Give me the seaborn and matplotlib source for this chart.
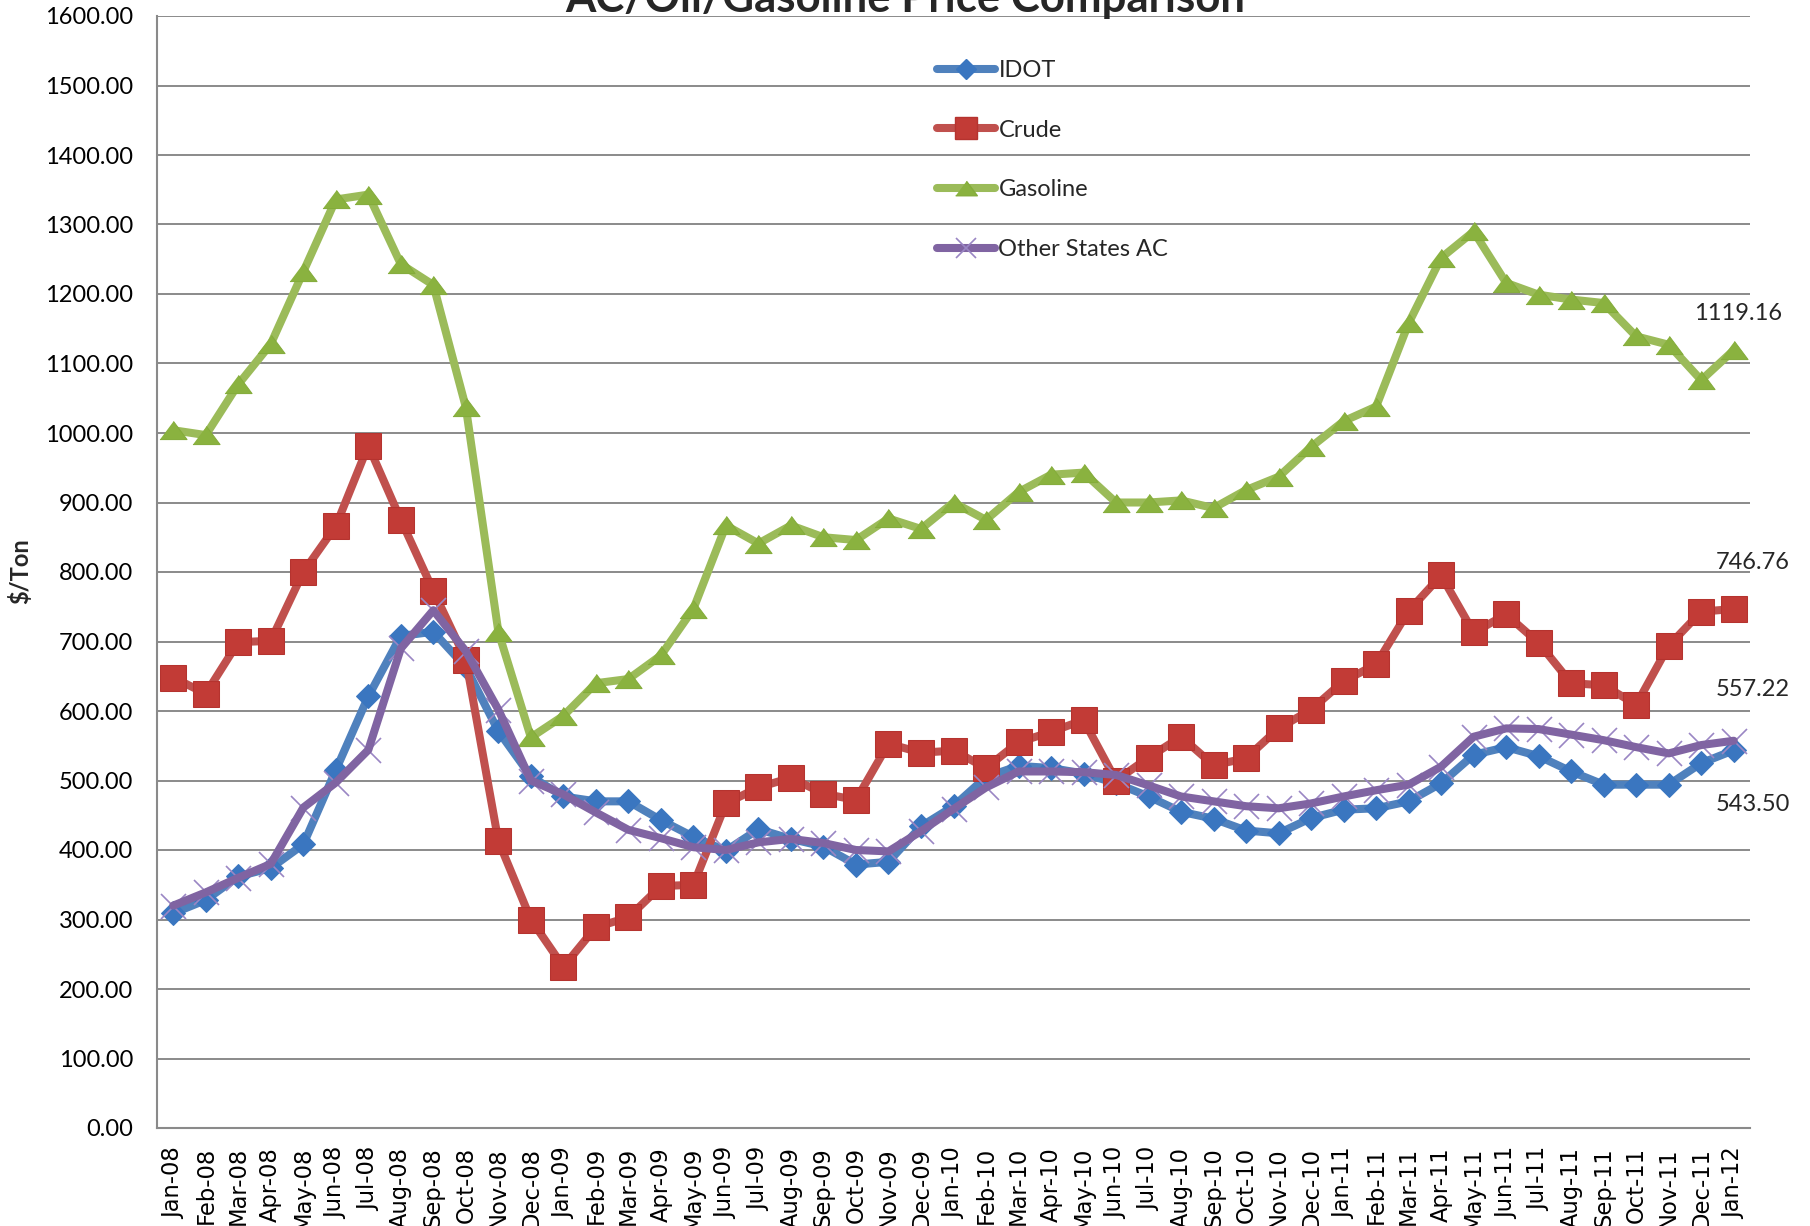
import numpy as np
import pandas as pd
import matplotlib
matplotlib.use("Agg")
import matplotlib.pyplot as plt
from matplotlib.lines import Line2D
from matplotlib.ticker import FuncFormatter
import seaborn as sns

# ---------------- data ----------------
months = [
    "Jan-08", "Feb-08", "Mar-08", "Apr-08", "May-08", "Jun-08", "Jul-08", "Aug-08", "Sep-08", "Oct-08", "Nov-08", "Dec-08",
    "Jan-09", "Feb-09", "Mar-09", "Apr-09", "May-09", "Jun-09", "Jul-09", "Aug-09", "Sep-09", "Oct-09", "Nov-09", "Dec-09",
    "Jan-10", "Feb-10", "Mar-10", "Apr-10", "May-10", "Jun-10", "Jul-10", "Aug-10", "Sep-10", "Oct-10", "Nov-10", "Dec-10",
    "Jan-11", "Feb-11", "Mar-11", "Apr-11", "May-11", "Jun-11", "Jul-11", "Aug-11", "Sep-11", "Oct-11", "Nov-11", "Dec-11",
    "Jan-12",
]

idot = [
    309, 328, 362, 374, 408, 515, 621, 708, 714, 663, 571, 506,
    477, 470, 470, 443, 419, 399, 430, 416, 405, 379, 383, 434,
    463, 505, 521, 518, 510, 496, 477, 455, 445, 428, 424, 446,
    458, 460, 470, 496, 537, 548, 535, 513, 494, 494, 494, 525,
    543.50,
]

crude = [
    648, 625, 699, 701, 800, 866, 982, 875, 773, 674, 413, 300,
    232, 289, 303, 348, 350, 467, 490, 504, 481, 472, 553, 540,
    543, 518, 555, 570, 587, 500, 533, 563, 522, 532, 575, 602,
    643, 667, 744, 795, 713, 739, 698, 640, 637, 609, 694, 743,
    746.76,
]

gasoline = [
    1004, 997, 1070, 1128, 1232, 1336, 1343, 1243, 1213, 1037, 714, 562,
    593, 640, 646, 680, 747, 867, 841, 867, 850, 846, 877, 862,
    900, 875, 915, 940, 943, 900, 900, 903, 892, 918, 937, 980,
    1017, 1038, 1158, 1252, 1290, 1216, 1199, 1192, 1187, 1139, 1127, 1076,
    1119.16,
]

other_states = [
    320, 339, 360, 380, 461, 497, 544, 690, 745, 686, 602, 500,
    480, 454, 429, 417, 404, 400, 411, 416, 410, 400, 398, 427,
    459, 490, 513, 513, 512, 508, 493, 477, 470, 463, 460, 467,
    477, 486, 494, 520, 563, 575, 574, 566, 558, 548, 539, 551,
    557.22,
]

series_names = ["IDOT", "Crude", "Gasoline", "Other States AC"]
title = "AC/Oil/Gasoline Price Comparison"
y_label = r"\$/Ton"

# ---------------- styling ----------------
sns.set_style("white")
plt.rcParams["font.family"] = ["Lato", "DejaVu Sans"]

W, H = 1810, 1226
fig, ax = plt.subplots(figsize=(W / 100, H / 100), dpi=100)
fig.subplots_adjust(left=157 / W, right=1750 / W, top=1 - 16 / H, bottom=1 - 1128 / H)

idx = np.arange(len(months))
df = pd.DataFrame({"idx": idx, "IDOT": idot, "Crude": crude,
                   "Gasoline": gasoline, "Other States AC": other_states})
long = df.melt(id_vars="idx", var_name="series", value_name="value")

grid_c = "#8a8a8a"
line_w = 5.8

tri = [(-1.0, -0.67), (1.0, -0.67), (0.0, 0.67)]

styles = {
    "IDOT": dict(color="#4F81BD", marker="D", markersize=12.5,
                 markerfacecolor="#3A76C0", markeredgecolor="#3A76C0"),
    "Crude": dict(color="#C0504D", marker="s", markersize=19,
                  markerfacecolor="#C23B36", markeredgecolor="#B5332F"),
    "Gasoline": dict(color="#9BBB59", marker=tri, markersize=19.5,
                     markerfacecolor="#8AB23F", markeredgecolor="#84AC3A"),
}
x_style = dict(marker="x", markersize=18, markeredgewidth=1.2,
               markeredgecolor="#9A86C4")

for name in ["IDOT", "Crude", "Gasoline"]:
    sub = long[long["series"] == name]
    sns.lineplot(data=sub, x="idx", y="value", ax=ax, linewidth=line_w,
                 errorbar=None, sort=False, legend=False, **styles[name])

# Other States AC: light X markers beneath a thick purple line
sub = long[long["series"] == "Other States AC"]
sns.lineplot(data=sub, x="idx", y="value", ax=ax, linestyle="", color="#9A86C4",
             errorbar=None, sort=False, legend=False, **x_style)
sns.lineplot(data=sub, x="idx", y="value", ax=ax, linewidth=line_w,
             color="#8064A2", errorbar=None, sort=False, legend=False)

# axes
ax.set_xlim(-0.5, len(months) - 0.5)
ax.set_ylim(0, 1600)
ax.set_yticks(np.arange(0, 1601, 100))
ax.yaxis.set_major_formatter(FuncFormatter(lambda v, p: f"{v:.2f}"))
ax.set_xticks(idx)
ax.set_xticklabels(months, rotation=90, fontfamily="DejaVu Sans", fontsize=16.3)
ax.set_xticks(np.arange(-0.5, len(months), 1), minor=True)
ax.tick_params(axis="x", which="major", length=0, pad=13.7, colors="black")
ax.tick_params(axis="x", which="minor", length=5.5, width=1.3, color=grid_c)
ax.tick_params(axis="y", which="major", length=5, width=1.3, color=grid_c,
               pad=12, labelsize=17, labelcolor="black")
ax.set_xlabel("")
ax.set_ylabel("")
ax.grid(axis="y", color=grid_c, linewidth=1.4)
ax.grid(axis="x", visible=False)
ax.set_axisbelow(True)
for s in ["top", "right"]:
    ax.spines[s].set_visible(False)
for s in ["left", "bottom"]:
    ax.spines[s].set_color(grid_c)
    ax.spines[s].set_linewidth(1.5)

# title and y label (title partially cut at top, as in reference)
fig.text(0.5, 1 - 12 / H, title, ha="center", va="baseline",
         fontsize=31.5, fontweight="bold")
fig.text(20 / W, 1 - 571 / H, y_label, rotation=90, ha="center", va="center",
         fontsize=17, fontweight="bold")

# end-point value labels
ends = [(gasoline[-1], 4, 37), (crude[-1], 19, 47),
        (other_states[-1], 19, 51), (idot[-1], 19, -54)]
for val, dx, dy in ends:
    ax.annotate(f"{val:.2f}", xy=(idx[-1], val), xytext=(dx, dy),
                textcoords="offset pixels", ha="center", va="center",
                fontsize=17, annotation_clip=False)

# legend
handles = [
    Line2D([], [], linewidth=line_w, solid_capstyle="round", **styles["IDOT"]),
    Line2D([], [], linewidth=line_w, solid_capstyle="round", **styles["Crude"]),
    Line2D([], [], linewidth=line_w, solid_capstyle="round", **styles["Gasoline"]),
    Line2D([], [], linewidth=line_w, solid_capstyle="round", color="#8064A2", **x_style),
]
fig.legend(handles, series_names, loc="upper left",
           bbox_to_anchor=(937 / W, 1 - 60 / H), bbox_transform=fig.transFigure,
           frameon=False, fontsize=17, handlelength=2.45, handletextpad=0.15,
           labelspacing=1.64, borderpad=0, borderaxespad=0, numpoints=1,
           markerscale=0.8)

fig.savefig("out.png", dpi=100)
